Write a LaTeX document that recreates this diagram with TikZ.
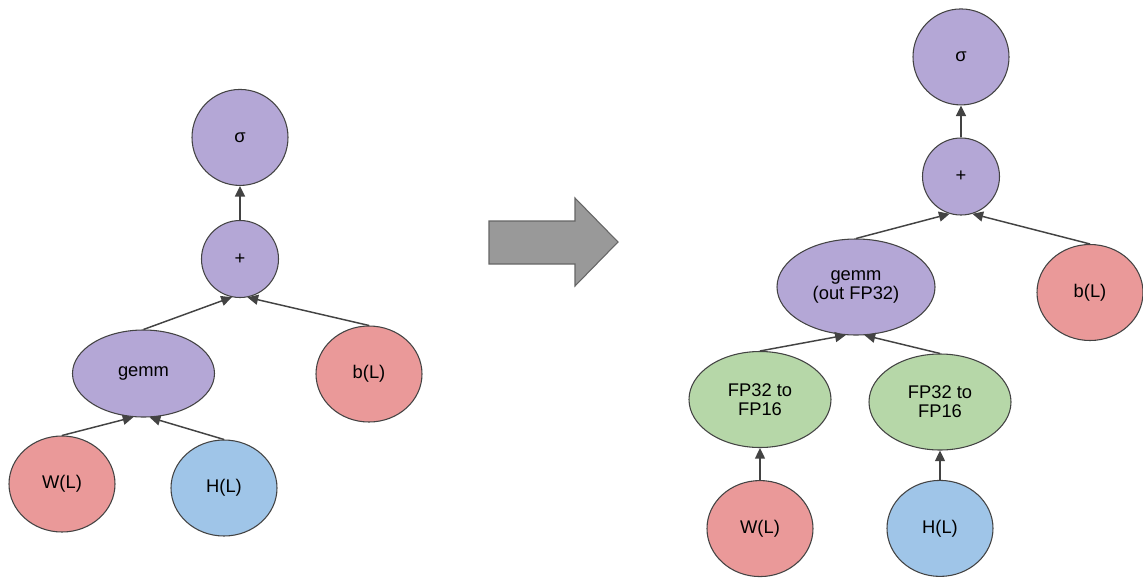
\documentclass[tikz,border=0pt]{standalone}
\usepackage{fontspec}
\setmainfont{Liberation Sans}
\usetikzlibrary{arrows.meta,positioning,shapes.geometric}
\definecolor{oppurple}{HTML}{B4A7D6}
\definecolor{inred}{HTML}{EA9999}
\definecolor{inblue}{HTML}{9FC5E8}
\definecolor{cvtgreen}{HTML}{B6D7A8}
\definecolor{edgegray}{HTML}{434343}
\definecolor{arrfill}{HTML}{999999}
\definecolor{arrborder}{HTML}{666666}
\tikzset{
  nd/.style={ellipse,draw=edgegray,line width=0.8pt,inner sep=0pt,align=center,font=\fontsize{13.75}{14.5}\selectfont},
  opblk/.style={nd,fill=oppurple},
  sigblk/.style={opblk,minimum width=72pt,minimum height=72pt},
  plusblk/.style={opblk,minimum width=57.75pt,minimum height=57.75pt},
  redblk/.style={nd,fill=inred,minimum width=79.5pt,minimum height=72pt},
  blueblk/.style={nd,fill=inblue,minimum width=79.5pt,minimum height=72pt},
  cvtblk/.style={nd,fill=cvtgreen,minimum width=106.5pt,minimum height=72pt},
  arr/.style={-{Triangle[length=8pt,width=7.5pt]},line width=1.1pt,draw=edgegray},
  bigarr/.style={draw=arrborder,fill=arrfill,line width=0.8pt}
}
\begin{document}
\begin{tikzpicture}[x=0.75pt,y=-0.75pt]
  \useasboundingbox (0,0) rectangle (1143,579);

  % before
  \node[plusblk] (plus1) at (240,259) {+};
  \node[sigblk, above=25.5pt of plus1] (sig1) {σ};
  \node[opblk, minimum width=106.5pt, minimum height=65.25pt] (gemm1) at (143.5,373.5) {gemm};
  \node[redblk] (b1) at (369,374) {b(L)};
  \node[redblk] (w1) at (62,484) {W(L)};
  \node[blueblk] (h1) at (224,488) {H(L)};

  \draw[arr] (plus1) -- (sig1);
  \draw[arr] (gemm1.north) -- (plus1.258);
  \draw[arr] (b1.north) -- (plus1.281);
  \draw[arr] (w1.north) -- (gemm1.257);
  \draw[arr] (h1.north) -- (gemm1.278);

  % big arrow
  \draw[bigarr] (489,221) -- (575,221) -- (575,198) -- (618,242) -- (575,286) -- (575,264) -- (489,264) -- cycle;

  % after
  \node[plusblk] (plus2) at (961,176.5) {+};
  \node[sigblk, above=24pt of plus2] (sig2) {σ};
  \node[opblk, minimum width=118.5pt, minimum height=72pt] (gemm2) at (856,287) {gemm\\(out FP32)};
  \node[redblk] (b2) at (1090,292.5) {b(L)};
  \node[cvtblk] (cvtw) at (760,399.5) {FP32 to\\FP16};
  \node[cvtblk] (cvth) at (940,402) {FP32 to\\FP16};
  \node[redblk, below=24pt of cvtw] (w2) {W(L)};
  \node[blueblk, below=22pt of cvth] (h2) {H(L)};

  \draw[arr] (plus2) -- (sig2);
  \draw[arr] (gemm2.north) -- (plus2.253);
  \draw[arr] (b2.north) -- (plus2.287);
  \draw[arr] (cvtw.north) -- (gemm2.258);
  \draw[arr] (cvth.north) -- (gemm2.280);
  \draw[arr] (w2) -- (cvtw);
  \draw[arr] (h2) -- (cvth);
\end{tikzpicture}
\end{document}
